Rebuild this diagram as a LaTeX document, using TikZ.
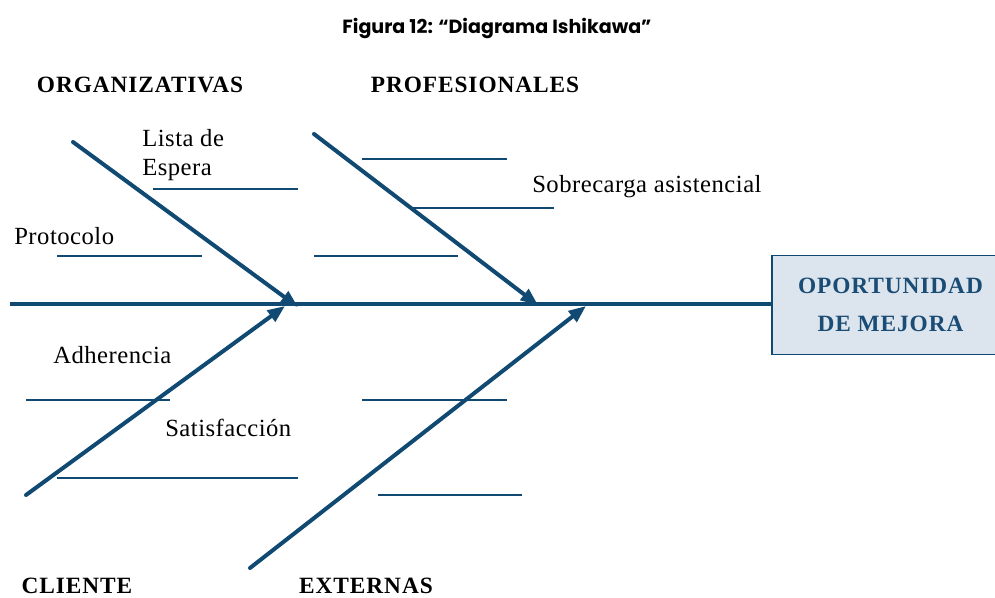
\documentclass[tikz,border=0pt]{standalone}
\usepackage{fontspec}
\setmainfont{Liberation Serif}
\newfontfamily\titlefont{Poppins}
\newfontfamily\causefont[LetterSpace=2]{Liberation Serif}
\newfontfamily\catfont[LetterSpace=4]{Liberation Serif}
\usetikzlibrary{arrows.meta, calc}
\definecolor{bone}{HTML}{104A72}
\definecolor{boxfill}{HTML}{DCE5ED}
\definecolor{boxtext}{HTML}{1A4C75}

\begin{document}
\begin{tikzpicture}[
  x=0.75pt, y=-0.75pt,
  >={Triangle[length=13pt, width=10pt]},
  bonestyle/.style={bone, line width=3pt, line cap=round},
  under/.style={bone, line width=0.9pt},
  cat/.style={font=\catfont\bfseries\fontsize{17.5}{19}\selectfont, inner sep=0pt},
  cause/.style={font=\causefont\fontsize{18.5}{20}\selectfont, anchor=west, inner sep=0pt},
]

% ══════════════════════════════════════════════════════
% Canvas
% ══════════════════════════════════════════════════════
\useasboundingbox (0,0) rectangle (995,597);

% ══════════════════════════════════════════════════════
% Title
% ══════════════════════════════════════════════════════
\node[font=\titlefont\bfseries\fontsize{14.3}{17}\selectfont] (title) at (497,28)
  {Figura 12: “Diagrama Ishikawa”};

% ══════════════════════════════════════════════════════
% Head box and spine
% ══════════════════════════════════════════════════════
\node[draw=bone, fill=boxfill, line width=1.2pt, minimum width=178pt,
  minimum height=74pt, anchor=west, align=center, text=boxtext,
  font=\catfont\bfseries\fontsize{17.5}{29}\selectfont] (head) at (771,305)
  {OPORTUNIDAD\\DE MEJORA};

\coordinate (tail) at (10,304);
\draw[bone, line width=3.2pt] (tail) -- (tail -| head.west);

% ══════════════════════════════════════════════════════
% Bones (start -> point on spine)
% ══════════════════════════════════════════════════════
\coordinate (orgS) at (73,142);   \coordinate (orgE) at (298,307);
\coordinate (proS) at (314,134);  \coordinate (proE) at (538,305);
\coordinate (cliS) at (26,495);   \coordinate (cliE) at (285,306);
\coordinate (extS) at (250,568);  \coordinate (extE) at (586,306);

\foreach \s/\e in {orgS/orgE, proS/proE, cliS/cliE, extS/extE}{
  \draw[bonestyle, ->] (\s) -- (\e);
}

% ══════════════════════════════════════════════════════
% Category labels
% ══════════════════════════════════════════════════════
\node[cat] (org) at (140,85) {ORGANIZATIVAS};
\node[cat] (pro) at (475,85) {PROFESIONALES};
\node[cat] (cli) at (77,586) {CLIENTE};
\node[cat] (ext) at (366,586) {EXTERNAS};

% ══════════════════════════════════════════════════════
% Cause lines
% ══════════════════════════════════════════════════════
\foreach \xa/\xb/\yy in {%
  153/298/189,%
  57/202/256,%
  362/507/159,%
  411/554/208,%
  314/458/256,%
  26/170/400,%
  57/298/478,%
  362/507/400,%
  378/522/495%
}{
  \draw[under] (\xa,\yy) -- (\xb,\yy);
}

% Cause labels
\node[cause] (lista) at (142,138) {Lista de};
\node[cause] (espera) at (142,170) {Espera};
\node[cause] (proto) at (14,236) {Protocolo};
\node[cause] (sobre) at (532,187) {Sobrecarga asistencial};
\node[cause] (adh) at (53,355) {Adherencia};
\node[cause] (satis) at (165,428) {Satisfacción};

\end{tikzpicture}
\end{document}
